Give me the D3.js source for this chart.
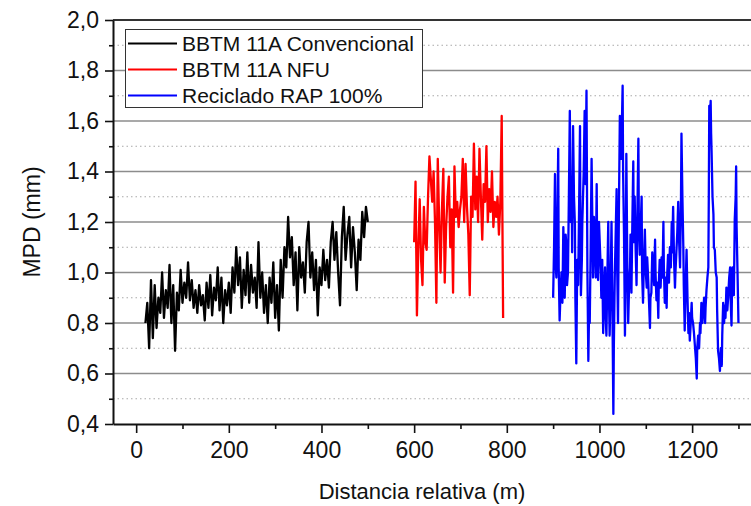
<!DOCTYPE html>
<html>
<head>
<meta charset="utf-8">
<script src="https://cdn.jsdelivr.net/npm/d3@7"></script>
<style>
  html, body { margin: 0; padding: 0; background: #fff; }
  svg { display: block; font-family: "Liberation Sans", Arial, sans-serif; }
</style>
</head>
<body>
<div class="chart"></div>
<script>
// Chart size
const width = 751;
const height = 506;

// Axis ticks
const yMajorTicks = [0.4, 0.6, 0.8, 1.0, 1.2, 1.4, 1.6, 1.8, 2.0];
const yMinorTicks = [0.5, 0.7, 0.9, 1.1, 1.3, 1.5, 1.7, 1.9];
const xMajorTicks = [0, 200, 400, 600, 800, 1000, 1200];
const xMinorTicks = [100, 300, 500, 700, 900, 1100, 1300];

// Series names / colours
const seriesNames = ['BBTM 11A Convencional', 'BBTM 11A NFU', 'Reciclado RAP 100%'];
const seriesColors = ['#000000', '#ff0000', '#0000ff'];

// BBTM 11A Convencional : 20 m -> 500 m, every 4 m
const blackStart = 20, blackStep = 4;
const blackMPD = [
  0.80, 0.88, 0.70, 0.97, 0.74, 0.95, 0.78, 0.90, 0.84, 1.00,
  0.82, 0.93, 0.86, 1.03, 0.80, 0.95, 0.69, 0.92, 0.85, 1.01,
  0.88, 0.96, 0.90, 1.04, 0.89, 0.97, 0.86, 0.93, 0.84, 0.95,
  0.87, 0.91, 0.81, 0.96, 0.86, 0.99, 0.83, 0.94, 0.89, 1.02,
  0.85, 0.98, 0.80, 0.93, 0.87, 0.96, 0.84, 1.02, 0.92, 1.10,
  0.95, 1.06, 0.86, 1.01, 0.91, 1.08, 0.88, 1.03, 0.92, 0.98,
  0.86, 1.12, 0.90, 1.00, 0.84, 0.95, 0.80, 0.98, 0.88, 1.04,
  0.82, 0.95, 0.77, 1.05, 0.90, 1.10, 1.02, 1.22, 1.06, 1.14,
  0.95, 1.08, 0.85, 1.10, 0.98, 1.04, 0.92, 1.12, 1.20, 0.98,
  1.08, 0.93, 1.05, 0.83, 1.02, 0.95, 1.09, 0.97, 1.05, 0.94,
  1.12, 1.20, 1.05, 1.16, 1.00, 0.87, 1.14, 1.26, 1.05, 1.15,
  1.22, 1.02, 1.18, 1.08, 0.93, 1.13, 1.05, 1.24, 1.14, 1.26,
  1.20
];

// BBTM 11A NFU : 600 m -> 792 m, every 3 m
const redStart = 600, redStep = 3;
const redMPD = [
  1.12, 1.36, 0.83, 1.10, 1.29, 1.05, 0.95, 1.26, 1.12, 1.09,
  1.30, 1.46, 1.37, 1.28, 1.40, 1.20, 0.88, 1.45, 1.20, 1.00,
  1.25, 1.41, 0.96, 1.18, 1.30, 1.38, 1.10, 1.25, 0.92, 1.42,
  1.22, 1.28, 1.18, 1.25, 1.30, 1.45, 1.20, 1.43, 1.26, 1.15,
  0.91, 1.30, 1.22, 1.51, 1.25, 1.38, 1.20, 1.49, 1.30, 1.13,
  1.35, 1.28, 1.50, 1.20, 1.33, 1.24, 1.40, 1.18, 1.28, 1.22,
  1.30, 1.15, 1.28, 1.62, 0.82
];

// Reciclado RAP 100% : [distance (m), MPD (mm)]
const bluePoints = [
  [900, 0.90], [902, 1.10], [904, 1.39], [905, 1.05], [907, 0.98], [909, 1.20], [911, 1.49], [912, 1.02],
  [914, 0.81], [916, 0.92], [918, 1.00], [920, 0.88], [922, 1.18], [924, 1.02], [925, 0.90], [927, 1.15],
  [929, 1.10], [930, 0.95], [932, 1.00], [934, 1.30], [936, 1.64], [938, 1.20], [940, 1.38], [941, 1.08],
  [943, 1.58], [945, 1.30], [947, 1.19], [948, 0.90], [950, 0.64], [952, 1.05], [954, 0.95], [956, 1.25],
  [958, 1.58], [959, 1.10], [960, 0.91], [962, 1.05], [963, 1.20], [966, 1.40], [968, 1.64], [970, 1.35],
  [972, 1.72], [974, 1.00], [976, 0.65], [978, 0.90], [979, 0.80], [981, 1.10], [983, 1.45], [985, 1.15],
  [986, 0.98], [988, 1.22], [990, 1.12], [992, 0.98], [994, 1.35], [995, 1.08], [997, 0.97], [999, 1.20],
  [1001, 1.10], [1003, 1.00], [1004, 0.90], [1006, 1.05], [1008, 0.76], [1010, 0.92], [1012, 1.02], [1013, 0.85],
  [1015, 0.75], [1017, 0.98], [1019, 1.20], [1020, 0.95], [1022, 0.75], [1024, 0.95], [1026, 1.20], [1028, 0.85],
  [1030, 0.44], [1031, 0.70], [1033, 0.98], [1035, 1.15], [1037, 1.33], [1038, 1.05], [1040, 0.80], [1042, 1.25],
  [1044, 1.62], [1047, 1.45], [1050, 1.74], [1051, 1.40], [1053, 1.15], [1054, 0.95], [1055, 0.75], [1057, 1.10],
  [1058, 1.47], [1060, 1.05], [1062, 0.80], [1064, 0.95], [1066, 1.02], [1067, 1.15], [1069, 0.92], [1071, 1.20],
  [1073, 1.44], [1074, 1.12], [1076, 1.30], [1078, 1.10], [1080, 0.95], [1082, 1.25], [1084, 1.53], [1085, 1.20],
  [1087, 1.07], [1089, 1.18], [1091, 1.30], [1092, 1.00], [1094, 0.88], [1096, 1.05], [1098, 1.17], [1100, 1.00],
  [1102, 0.94], [1103, 1.06], [1105, 0.98], [1107, 0.88], [1109, 0.78], [1110, 0.90], [1112, 0.92], [1114, 1.08],
  [1116, 1.02], [1118, 0.95], [1120, 1.13], [1121, 1.00], [1123, 0.89], [1125, 0.96], [1127, 0.82], [1128, 0.95],
  [1130, 1.05], [1132, 0.94], [1134, 1.06], [1136, 0.98], [1138, 1.20], [1139, 1.02], [1141, 0.88], [1143, 0.98],
  [1145, 0.86], [1146, 0.98], [1148, 1.07], [1150, 0.96], [1152, 1.10], [1154, 1.02], [1156, 1.20], [1157, 1.08],
  [1159, 1.26], [1161, 1.05], [1163, 0.94], [1164, 1.00], [1166, 1.08], [1168, 1.16], [1170, 1.28], [1172, 1.12],
  [1174, 1.02], [1176, 1.30], [1177, 1.55], [1179, 1.30], [1181, 1.10], [1182, 0.95], [1184, 0.77], [1186, 0.95],
  [1188, 1.09], [1190, 0.90], [1192, 0.76], [1193, 0.84], [1195, 0.73], [1197, 0.80], [1199, 0.88], [1200, 0.82],
  [1202, 0.80], [1204, 0.76], [1206, 0.71], [1208, 0.66], [1210, 0.58], [1211, 0.70], [1213, 0.75], [1215, 0.70],
  [1217, 0.80], [1218, 0.76], [1220, 0.88], [1222, 0.80], [1224, 0.86], [1226, 0.90], [1228, 0.80], [1229, 0.86],
  [1231, 0.93], [1233, 0.98], [1235, 1.02], [1236, 1.30], [1237, 1.66], [1238, 1.55], [1240, 1.68], [1241, 1.55],
  [1242, 1.48], [1244, 1.30], [1246, 1.23], [1247, 1.10], [1249, 1.09], [1251, 1.00], [1253, 0.98], [1254, 0.85],
  [1256, 0.69], [1258, 0.66], [1260, 0.61], [1262, 0.70], [1264, 0.63], [1265, 0.75], [1267, 0.88], [1269, 0.80],
  [1271, 0.87], [1272, 0.82], [1274, 0.94], [1276, 0.85], [1278, 0.91], [1280, 0.98], [1282, 1.02], [1283, 0.90],
  [1285, 0.79], [1286, 0.92], [1287, 1.02], [1289, 0.95], [1290, 0.91], [1291, 1.05], [1292, 1.21], [1294, 1.30],
  [1295, 1.42], [1296, 1.18], [1298, 1.00], [1300, 0.80]
];

// Plot frame
const margin = { top: 20, left: 113, bottom: 82 };
const plotBottom = height - margin.bottom;

const x = d3.scaleLinear().domain([-50, 1350]).range([margin.left, margin.left + 1400 * 0.4633]);
const y = d3.scaleLinear().domain([0.4, 2.0]).range([plotBottom, margin.top]);

const fmtY = d => d3.format('.1f')(d).replace('.', ',');
const fmtX = d3.format('d');

const svg = d3.select('.chart')
  .append('svg')
  .attr('width', width)
  .attr('height', height);

// Grid (minor dotted, major solid)
svg.append('g')
  .selectAll('line')
  .data(yMinorTicks)
  .join('line')
    .attr('x1', margin.left).attr('x2', width)
    .attr('y1', d => y(d)).attr('y2', d => y(d))
    .attr('stroke', '#a8a8a8')
    .attr('stroke-width', 1)
    .attr('stroke-dasharray', '1.5,3');

svg.append('g')
  .selectAll('line')
  .data(yMajorTicks.filter(d => d > 0.4 && d < 2.0))
  .join('line')
    .attr('x1', margin.left).attr('x2', width)
    .attr('y1', d => y(d)).attr('y2', d => y(d))
    .attr('stroke', '#8c8c8c')
    .attr('stroke-width', 1.6);

// Top frame
svg.append('line')
  .attr('x1', margin.left).attr('x2', width)
  .attr('y1', y(2.0)).attr('y2', y(2.0))
  .attr('stroke', '#333')
  .attr('stroke-width', 2);

// Series
const line = d3.line().x(d => x(d[0])).y(d => y(d[1]));
const blackData = blackMPD.map((v, i) => [blackStart + i * blackStep, v]);
const redData = redMPD.map((v, i) => [redStart + i * redStep, v]);
const allSeries = [blackData, redData, bluePoints];

svg.append('g')
  .selectAll('path')
  .data(allSeries)
  .join('path')
    .attr('d', line)
    .attr('fill', 'none')
    .attr('stroke', (d, i) => seriesColors[i])
    .attr('stroke-width', 2.3)
    .attr('stroke-linejoin', 'round');

// Axes
const axisStyle = g => {
  g.select('.domain').attr('stroke', '#111').attr('stroke-width', 2);
  g.selectAll('.tick line').attr('stroke', '#111').attr('stroke-width', 1.6);
  g.selectAll('.tick text').attr('fill', '#111').attr('font-size', 23)
    .attr('font-family', '"Liberation Sans", Arial, sans-serif');
};

svg.append('g')
  .attr('transform', `translate(0,${plotBottom})`)
  .call(d3.axisBottom(x).tickValues(xMinorTicks).tickSize(5).tickFormat(''))
  .call(g => g.select('.domain').remove())
  .call(g => g.selectAll('.tick line').attr('stroke', '#111').attr('stroke-width', 1.6));

svg.append('g')
  .attr('transform', `translate(0,${plotBottom})`)
  .call(d3.axisBottom(x).tickValues(xMajorTicks).tickFormat(fmtX).tickSize(9).tickSizeOuter(0).tickPadding(9))
  .call(axisStyle);

svg.append('g')
  .attr('transform', `translate(${margin.left},0)`)
  .call(d3.axisLeft(y).tickValues(yMinorTicks).tickSize(4).tickFormat(''))
  .call(g => g.select('.domain').remove())
  .call(g => g.selectAll('.tick line').attr('stroke', '#111').attr('stroke-width', 1.6));

svg.append('g')
  .attr('transform', `translate(${margin.left},0)`)
  .call(d3.axisLeft(y).tickValues(yMajorTicks).tickFormat(fmtY).tickSize(8).tickSizeOuter(0).tickPadding(6))
  .call(axisStyle);

// Axis titles
svg.append('text')
  .attr('x', 422)
  .attr('y', 499)
  .attr('text-anchor', 'middle')
  .attr('font-size', 22)
  .attr('fill', '#111')
  .text('Distancia relativa (m)');

svg.append('text')
  .attr('transform', 'translate(40,222) rotate(-90)')
  .attr('text-anchor', 'middle')
  .attr('font-size', 23)
  .attr('fill', '#111')
  .text('MPD (mm)');

// Legend
const legend = svg.append('g');
legend.append('rect')
  .attr('x', 125.5).attr('y', 29.5)
  .attr('width', 297).attr('height', 78)
  .attr('fill', '#fff')
  .attr('stroke', '#333')
  .attr('stroke-width', 1);

const items = legend.selectAll('g.item')
  .data(seriesNames)
  .join('g')
    .attr('class', 'item')
    .attr('transform', (d, i) => `translate(0,${43.5 + i * 26})`);

items.append('line')
  .attr('x1', 128).attr('x2', 177)
  .attr('stroke', (d, i) => seriesColors[i])
  .attr('stroke-width', 2);

items.append('text')
  .attr('x', 182)
  .attr('dy', '0.36em')
  .attr('font-size', 21)
  .attr('fill', '#111')
  .text(d => d);
</script>
</body>
</html>
